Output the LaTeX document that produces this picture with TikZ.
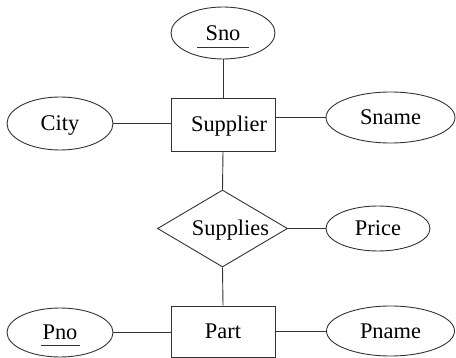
\documentclass[tikz,border=0pt]{standalone}
\usepackage{fontspec}
\setmainfont{Liberation Serif}
\usetikzlibrary{shapes.geometric}
\begin{document}
\begin{tikzpicture}[x=1pt,y=-1pt,
  every node/.style={font=\fontsize{22.4}{26}\selectfont, inner sep=0pt, text height=14.8pt, text depth=0pt},
  ln/.style={draw=black!80, line width=0.9pt},
  ent/.style={ln, rectangle, minimum width=104pt, minimum height=53pt},
  attr/.style={ln, ellipse},
  rel/.style={ln, diamond, aspect=1.69, minimum width=130pt, minimum height=77pt},
  conn/.style={draw=black!80, line width=0.9pt}]
\useasboundingbox (0,0) rectangle (456,358);
% entities
\node[ent] (supplier) at (223,124.5) {\makebox[0pt]{\hspace*{12pt}Supplier}};
\node[ent, minimum height=51pt] (part) at (223,331.5) {\makebox[0pt]{Part}};
% relationship
\node[rel] (supplies) at (222.5,228.5) {\makebox[0pt]{\hspace*{16pt}Supplies}};
% attributes
\node[attr, minimum width=104pt, minimum height=52pt] (sno) at (223,33) {\makebox[0pt]{Sno}};
\node[attr, minimum width=106pt, minimum height=53pt] (city) at (60,123.5) {\makebox[0pt]{City}};
\node[attr, minimum width=129pt, minimum height=51pt] (sname) at (390.5,117.5) {\makebox[0pt]{Sname}};
\node[attr, minimum width=104pt, minimum height=45pt] (price) at (378,228.5) {\makebox[0pt]{Price}};
\node[attr, minimum width=106pt, minimum height=49pt] (pno) at (60,332.5) {\makebox[0pt]{Pno}};
\node[attr, minimum width=128pt, minimum height=50pt] (pname) at (390.5,331) {\makebox[0pt]{Pname}};
% key underlines
\draw[conn] ([xshift=-26pt,yshift=-14pt]sno.center) -- ([xshift=26pt,yshift=-14pt]sno.center);
\draw[conn] ([xshift=-19.5pt,yshift=-13pt]pno.center) -- ([xshift=19.5pt,yshift=-13pt]pno.center);
% connectors
\draw[conn] (sno.south) -- (supplier.north);
\draw[conn] (city.east) -- (supplier.west |- city.east);
\draw[conn] (supplier.east |- sname.west) -- (sname.west);
\draw[conn] (supplier.south) -- (supplies.north);
\draw[conn] (supplies.east) -- (price.west);
\draw[conn] (supplies.south) -- (part.north);
\draw[conn] (pno.east) -- (part.west |- pno.east);
\draw[conn] (part.east) -- (pname.west -| part.east) -- (pname.west);
\end{tikzpicture}
\end{document}
